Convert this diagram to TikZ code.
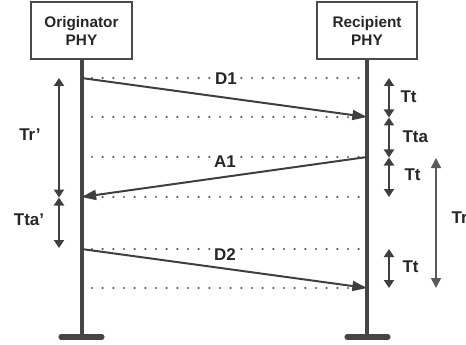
\documentclass[tikz,border=0pt]{standalone}
\usepackage{fontspec}
\setmainfont{Liberation Sans}[BoldFont={Liberation Sans Bold}]
\usetikzlibrary{arrows.meta}
\definecolor{txt}{HTML}{262626}
\definecolor{lifegray}{HTML}{454545}
\definecolor{arrowgray}{HTML}{3F3F3F}
\definecolor{dotgray}{HTML}{5E5E5E}
\definecolor{boxgray}{HTML}{4A4A4A}
\definecolor{spangray}{HTML}{5A5A5A}
\begin{document}
\begin{tikzpicture}[x=0.75pt,y=-0.75pt,
  phy/.style={draw=boxgray, line width=1.3pt, minimum width=75.5pt, minimum height=42.75pt,
    align=center, inner sep=0pt, font=\fontsize{11.5}{13.5}\selectfont\bfseries, text=txt},
  life/.style={line width=3pt, draw=lifegray},
  foot/.style={line width=3.8pt, line cap=round, draw=lifegray},
  msg/.style={line width=1.5pt, draw=arrowgray, -{Triangle[length=11pt,width=7.5pt]}},
  dotrow/.style={draw=dotgray, line width=1.8pt, line cap=round, dash pattern=on 0pt off 8pt},
  span/.style={line width=1.5pt, draw=arrowgray,
    {Triangle[length=6pt,width=7.5pt]}-{Triangle[length=6pt,width=7.5pt]}},
  longspan/.style={line width=1.2pt, draw=spangray,
    {Triangle[length=7.5pt,width=7.5pt]}-{Triangle[length=7.5pt,width=7.5pt]}},
  lbl/.style={font=\fontsize{12.75}{14}\selectfont\bfseries, text=txt, inner sep=1pt},
  msglbl/.style={lbl, fill=white}
]
\path[use as bounding box] (0,0) rectangle (466,345);
\clip (0,0) rectangle (466,345);

% the two PHY entities
\node[phy] (orig) at (81.5,30.5) {Originator\\PHY};
\node[phy] (recp) at (367,30.5) {Recipient\\PHY};

% lifelines and their feet
\coordinate (ofoot) at (81.5,337);
\coordinate (rfoot) at (367,337);
\coordinate (ofootL) at (61,337);
\coordinate (ofootR) at (102,337);
\coordinate (rfootL) at (347,337);
\coordinate (rfootR) at (388,337);
\draw[life] (orig.south) -- (ofoot);
\draw[life] (recp.south) -- (rfoot);
\draw[foot] (ofootL) -- (ofootR);
\draw[foot] (rfootL) -- (rfootR);

% dotted timing rows
\foreach \yy in {78,117,157,197,249,288}
  \draw[dotrow] (92,\yy) -- (360,\yy);

% events on the lifelines
\coordinate (o1) at (81.5,78);
\coordinate (r1) at (367,117);
\coordinate (r2) at (367,157);
\coordinate (o2) at (81.5,197);
\coordinate (o3) at (81.5,249);
\coordinate (r3) at (367,288);

% frames
\draw[msg] (o1) -- (r1);
\draw[msg] (r2) -- (o2);
\draw[msg] (o3) -- (r3);
\node[msglbl] (d1) at (226,79) {D1};
\node[msglbl] (a1) at (225,162) {A1};
\node[msglbl] (d2) at (225,255) {D2};

% intervals at the originator
\coordinate (la) at (59,78);
\coordinate (lb) at (59,197.5);
\coordinate (lc) at (59,248);
\draw[span] (la) -- (lb);
\draw[span] (lb) -- (lc);
\node[lbl] (trp) at (30,135) {Tr’};
\node[lbl] (ttap) at (29,220) {Tta’};

% intervals at the recipient
\coordinate (ra) at (389,78);
\coordinate (rb) at (389,117.5);
\coordinate (rc) at (389,157.5);
\coordinate (rd) at (389,197);
\coordinate (re) at (389,249);
\coordinate (rf) at (389,288);
\draw[span] (ra) -- (rb);
\draw[span] (rb) -- (rc);
\draw[span] (rc) -- (rd);
\draw[span] (re) -- (rf);
\node[lbl, anchor=west] (tt1) at (399,97) {Tt};
\node[lbl, anchor=west] (tta) at (401,137) {Tta};
\node[lbl, anchor=west] (tt2) at (403,175) {Tt};
\node[lbl, anchor=west] (tt3) at (401,267) {Tt};

% response interval
\coordinate (tra) at (436,158);
\coordinate (trb) at (436,288);
\draw[longspan] (tra) -- (trb);
\node[lbl, anchor=west] (tr) at (450,218) {Tr};
\end{tikzpicture}
\end{document}
